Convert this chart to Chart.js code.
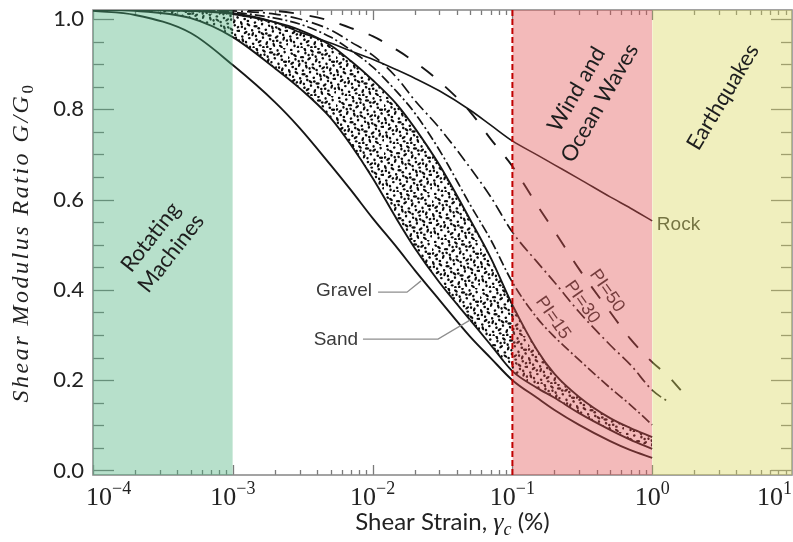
<!DOCTYPE html>
<html>
<head>
<meta charset="utf-8">
<script src="https://cdn.jsdelivr.net/npm/chart.js@4.4.1/dist/chart.umd.min.js"></script>
<style>
html,body{margin:0;padding:0;background:#ffffff;}
#wrap{width:793px;height:542px;position:relative;}
</style>
</head>
<body>
<div id="wrap"><canvas id="c" width="793" height="542"></canvas></div>
<script>
// ---------------- DATA ----------------
// shear strain (%) sample points shared by the curves
const strain = [1e-4, 2e-4, 5e-4, 1e-3, 2e-3, 3e-3, 5e-3, 7e-3, 1e-2, 1.5e-2, 2e-2, 3e-2,
                5e-2, 7e-2, 0.1, 0.15, 0.2, 0.3, 0.5, 0.7, 1.0];
// G/G0 values
const gravelLower = [1.018, 1.009, 0.969, 0.898, 0.816, 0.759, 0.677, 0.621, 0.559, 0.493, 0.444, 0.378,
                     0.296, 0.249, 0.200, 0.161, 0.134, 0.101, 0.065, 0.045, 0.028];
const sandLower   = [1.020, 1.018, 1.002, 0.960, 0.891, 0.847, 0.781, 0.721, 0.648, 0.555, 0.493, 0.417,
                     0.333, 0.278, 0.220, 0.183, 0.161, 0.127, 0.090, 0.068, 0.048];
const sandUpper   = [1.020, 1.020, 1.018, 1.011, 0.993, 0.976, 0.942, 0.907, 0.865, 0.810, 0.759, 0.677,
                     0.555, 0.471, 0.367, 0.267, 0.214, 0.163, 0.116, 0.094, 0.074];
const pi15        = [1.020, 1.020, 1.018, 1.015, 1.002, 0.989, 0.960, 0.931, 0.894, 0.838, 0.792, 0.710,
                     0.588, 0.511, 0.417, 0.338, 0.296, 0.245, 0.183, 0.145, 0.101];
const pi30Strain  = [1e-4, 2e-4, 5e-4, 1e-3, 2e-3, 3e-3, 5e-3, 7e-3, 1e-2, 1.5e-2, 2e-2, 3e-2,
                     5e-2, 7e-2, 0.1, 0.15, 0.2, 0.3, 0.5, 0.7, 1.0, 1.3];
const pi30        = [1.020, 1.020, 1.020, 1.018, 1.011, 1.000, 0.976, 0.949, 0.920, 0.869, 0.820, 0.759,
                     0.670, 0.606, 0.528, 0.462, 0.417, 0.351, 0.278, 0.234, 0.178, 0.152];
const pi50Strain  = [1e-4, 2e-4, 5e-4, 1e-3, 2e-3, 3e-3, 5e-3, 7e-3, 1e-2, 1.5e-2, 2e-2, 3e-2,
                     5e-2, 7e-2, 0.1, 0.15, 0.2, 0.3, 0.5, 0.7, 1.0, 1.3, 1.6];
const pi50        = [1.020, 1.020, 1.020, 1.020, 1.018, 1.011, 0.996, 0.980, 0.962, 0.931, 0.905, 0.862,
                     0.794, 0.734, 0.674, 0.588, 0.530, 0.446, 0.351, 0.291, 0.240, 0.209, 0.178];
const rock        = [1.020, 1.020, 1.018, 1.013, 0.993, 0.971, 0.947, 0.929, 0.911, 0.887, 0.869, 0.841,
                     0.798, 0.765, 0.730, 0.699, 0.677, 0.646, 0.606, 0.581, 0.553];

// loading regions
const regionNames = [['Rotating', 'Machines'], ['Wind and', 'Ocean Waves'], ['Earthquakes']];
const regionFrom  = [1e-4, 0.1, 1.0];
const regionTo    = [1e-3, 1.0, 10];
const thresholdStrain = 0.1;

// tick labels
const yTickValues = [0.0, 0.2, 0.4, 0.6, 0.8, 1.0];
const xTickExponents = [-4, -3, -2, -1, 0, 1];
const piLabels = ['PI=15', 'PI=30', 'PI=50'];

// ---------------- helpers ----------------
const Y_MIN = -0.01, Y_MAX = 1.02;
const canvas = document.getElementById('c');
const mainCtx = canvas.getContext('2d');

function makeStipple(targetCtx) {
  const S = 48;
  const c = document.createElement('canvas');
  c.width = S; c.height = S;
  const g = c.getContext('2d');
  g.fillStyle = '#0c0c0c';
  for (let i = 1; i <= 100; i++) {
    const px = ((i * 0.7548776662) % 1) * S;
    const py = ((i * 0.5698402910) % 1) * S;
    g.beginPath();
    g.ellipse(px, py, (i % 3 === 0) ? 2.2 : 1.35, 1.2, (i % 5) * 0.63, 0, Math.PI * 2);
    g.fill();
  }
  return targetCtx.createPattern(c, 'repeat');
}
const stipple = makeStipple(mainCtx);

const datasets = [];
function addLine(label, xs, ys, opts) {
  datasets.push(Object.assign({
    label: label,
    data: xs.map((x, i) => ({ x: x, y: ys[i] })),
    pointRadius: 0,
    borderColor: '#161616',
    borderWidth: 1.9,
    fill: false,
    cubicInterpolationMode: 'monotone'
  }, opts));
  return datasets.length - 1;
}

const iGravel = addLine('Gravel', strain, gravelLower, { order: 4 });
const iSandLo = addLine('Sand lower', strain, sandLower, { order: 4 });
const iSandUp = addLine('Sand upper', strain, sandUpper, { order: 6, fill: iSandLo, backgroundColor: stipple });
const iPi15 = addLine(piLabels[0], strain, pi15, { order: 3, borderWidth: 1.7, borderDash: [10, 3, 2, 3] });
const iPi30 = addLine(piLabels[1], pi30Strain, pi30, { order: 3, borderWidth: 1.7, borderDash: [12, 4, 2, 4] });
const iPi50 = addLine(piLabels[2], pi50Strain, pi50, { order: 3, borderWidth: 1.9, borderDash: [15, 16] });
const iRock = addLine('Rock', strain, rock, { order: 2, borderWidth: 1.6 });

const regionFill = ['rgba(75,177,125,0.40)', 'rgba(225,83,83,0.40)', 'rgba(218,215,93,0.40)'];
regionNames.forEach((n, k) => {
  datasets.push({
    label: n.join(' '),
    data: [{ x: regionFrom[k], y: Y_MAX }, { x: regionTo[k], y: Y_MAX }],
    pointRadius: 0, borderWidth: 0, borderColor: 'rgba(0,0,0,0)',
    backgroundColor: regionFill[k], fill: 'start', order: 1
  });
});
datasets.push({
  label: 'threshold',
  data: [{ x: thresholdStrain, y: Y_MIN }, { x: thresholdStrain, y: Y_MAX }],
  pointRadius: 0, borderWidth: 2, borderColor: '#c00000', borderDash: [6, 3],
  fill: false, order: 0
});

// ---------------- plugins ----------------
function seg(ctx, x1, y1, x2, y2) { ctx.beginPath(); ctx.moveTo(x1, y1); ctx.lineTo(x2, y2); ctx.stroke(); }

const axisDecor = {
  id: 'axisDecor',
  beforeDatasetsDraw(chart) {
    const { ctx, chartArea: a, scales: { x, y } } = chart;
    ctx.save();
    ctx.strokeStyle = '#7a7a7a';
    ctx.lineWidth = 1.3;
    for (let d = -4; d <= 0; d++) {
      for (let m = 1; m <= 9; m++) {
        const px = Math.round(x.getPixelForValue(m * Math.pow(10, d))) + 0.5;
        const len = m === 1 ? 10 : 5;
        seg(ctx, px, a.bottom, px, a.bottom - len);
        seg(ctx, px, a.top, px, a.top + len);
      }
    }
    for (let k = 0; k <= 20; k++) {
      const py = Math.round(y.getPixelForValue(k * 0.05)) + 0.5;
      const len = (k % 4 === 0) ? 21 : 11;
      seg(ctx, a.left, py, a.left + len, py);
      seg(ctx, a.right, py, a.right - len, py);
    }
    ctx.strokeStyle = '#8c8c8c';
    ctx.lineWidth = 1.6;
    ctx.strokeRect(a.left, a.top, a.right - a.left, a.bottom - a.top);
    ctx.restore();
  }
};

const curveNotes = {
  id: 'curveNotes',
  afterDatasetDraw(chart, args) {
    if (args.index !== iRock) return;
    const { ctx, scales: { x, y } } = chart;
    const P = (sx, sy) => [x.getPixelForValue(sx), y.getPixelForValue(sy)];
    ctx.save();
    ctx.strokeStyle = '#8e8e8e';
    ctx.lineWidth = 1.3;
    const poly = pts => { ctx.beginPath(); pts.forEach((p, i) => i ? ctx.lineTo(p[0], p[1]) : ctx.moveTo(p[0], p[1])); ctx.stroke(); };
    poly([P(0.01094, 0.395), P(0.01762, 0.395), P(0.0222, 0.420)]);
    poly([P(0.00853, 0.291), P(0.02937, 0.291), P(0.0497, 0.333)]);
    ctx.fillStyle = '#3a3a3a';
    ctx.font = '19px "Liberation Sans", Arial, sans-serif';
    ctx.textAlign = 'right';
    ctx.textBaseline = 'middle';
    let p = P(0.0099, 0.398); ctx.fillText('Gravel', p[0], p[1]);
    p = P(0.00787, 0.289); ctx.fillText('Sand', p[0], p[1]);
    // PI labels
    ctx.fillStyle = '#2e2e2e';
    ctx.font = '18px "Liberation Sans", Arial, sans-serif';
    ctx.textAlign = 'center';
    const piPos = [[0.195, 0.338], [0.315, 0.373], [0.475, 0.398]];
    piLabels.forEach((t, k) => {
      const q = P(piPos[k][0], piPos[k][1]);
      ctx.save(); ctx.translate(q[0], q[1]); ctx.rotate(55 * Math.PI / 180);
      ctx.fillText(t, 0, 0); ctx.restore();
    });
    // Rock
    ctx.fillStyle = '#333333';
    ctx.font = '19px "Liberation Sans", Arial, sans-serif';
    ctx.textAlign = 'left';
    p = P(1.08, 0.544); ctx.fillText('Rock', p[0], p[1]);
    ctx.restore();
  }
};

const regionNotes = {
  id: 'regionNotes',
  afterDatasetsDraw(chart) {
    const { ctx, scales: { x, y } } = chart;
    const pos = [[3.06e-4, 0.499, -52, 26], [0.348, 0.829, -60, 27], [3.21, 0.827, -59, 26]];
    ctx.save();
    ctx.fillStyle = '#1e1e1e';
    ctx.font = '22px Lato, "Open Sans", sans-serif';
    ctx.textAlign = 'center';
    ctx.textBaseline = 'middle';
    regionNames.forEach((lines, k) => {
      const px = x.getPixelForValue(pos[k][0]);
      const py = y.getPixelForValue(pos[k][1]);
      ctx.save(); ctx.translate(px, py); ctx.rotate(pos[k][2] * Math.PI / 180);
      const lh = pos[k][3];
      lines.forEach((t, i) => ctx.fillText(t, 0, (i - (lines.length - 1) / 2) * lh));
      ctx.restore();
    });
    ctx.restore();
  }
};

const axisText = {
  id: 'axisText',
  afterDraw(chart) {
    const { ctx, chartArea: a, scales: { x } } = chart;
    ctx.save();
    ctx.fillStyle = '#222222';
    ctx.textBaseline = 'alphabetic';
    ctx.textAlign = 'left';
    // x tick labels 10^n
    const baseFont = '26px "Liberation Serif", serif';
    const expFont = '18px "Liberation Serif", serif';
    xTickExponents.forEach(e => {
      const px = x.getPixelForValue(Math.pow(10, e));
      const es = e < 0 ? '\u2212' + Math.abs(e) : String(e);
      ctx.font = baseFont; const wb = ctx.measureText('10').width;
      ctx.font = expFont; const we = ctx.measureText(es).width;
      let left = px - (wb + we) / 2;
      if (left < 86) left = 86;
      if (left + wb + we > 792) left = 792 - wb - we;
      ctx.font = baseFont; ctx.fillText('10', left, 505);
      ctx.font = expFont; ctx.fillText(es, left + wb, 494);
    });
    // x axis title
    const parts = [
      ['Shear Strain, ', '24px Lato, sans-serif', 0],
      ['\u03B3', 'italic 26px "Liberation Serif", serif', 0],
      ['c', 'italic 18px "Liberation Serif", serif', 5],
      [' (%)', '24px Lato, sans-serif', 0]
    ];
    let total = 0;
    parts.forEach(pt => { ctx.font = pt[1]; total += ctx.measureText(pt[0]).width; });
    let cx = (a.left + a.right) / 2 + 10 - total / 2;
    parts.forEach(pt => { ctx.font = pt[1]; ctx.fillText(pt[0], cx, 530 + pt[2]); cx += ctx.measureText(pt[0]).width; });
    // y axis title
    ctx.save();
    ctx.translate(28, (a.top + a.bottom) / 2);
    ctx.rotate(-Math.PI / 2);
    const mainT = 'Shear Modulus Ratio G/G';
    const mf = 'italic 24px "Liberation Serif", serif';
    const sf = '17px "Liberation Serif", serif';
    ctx.letterSpacing = '2.5px';
    ctx.font = mf; const wm = ctx.measureText(mainT).width;
    ctx.font = sf; const ws = ctx.measureText('0').width;
    const st = -(wm + ws) / 2;
    ctx.font = mf; ctx.fillText(mainT, st, 0);
    ctx.font = sf; ctx.fillText('0', st + wm, 5);
    ctx.restore();
    ctx.restore();
  }
};

// ---------------- chart ----------------
new Chart(mainCtx, {
  type: 'line',
  data: { datasets: datasets },
  options: {
    responsive: false,
    animation: false,
    devicePixelRatio: 1,
    events: [],
    layout: { padding: { top: 10, right: 1, left: 0, bottom: 0 } },
    plugins: { legend: { display: false }, tooltip: { enabled: false }, title: { display: false } },
    scales: {
      x: {
        type: 'logarithmic',
        min: 1e-4, max: 10,
        grid: { display: false, drawTicks: false },
        border: { display: false },
        ticks: { display: false },
        afterFit(scale) { scale.height = 67; scale.paddingLeft = 0; scale.paddingRight = 0; }
      },
      y: {
        type: 'linear',
        min: Y_MIN, max: Y_MAX,
        grid: { display: false, drawTicks: false },
        border: { display: false },
        afterBuildTicks(scale) { scale.ticks = yTickValues.map(v => ({ value: v })); },
        ticks: {
          padding: 9,
          color: '#222222',
          font: { family: 'Lato', size: 22 },
          callback: v => Number(v).toFixed(1)
        },
        afterFit(scale) { scale.width = 93; scale.paddingTop = 0; scale.paddingBottom = 0; }
      }
    }
  },
  plugins: [axisDecor, curveNotes, regionNotes, axisText]
});
</script>
</body>
</html>
